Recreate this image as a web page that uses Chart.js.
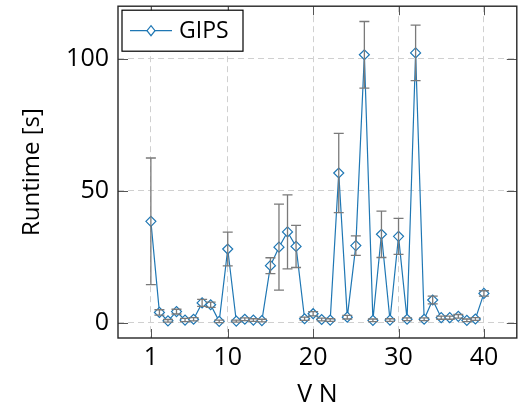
<!DOCTYPE html>
<html>
<head>
<meta charset="utf-8">
<script src="https://cdn.jsdelivr.net/npm/chart.js@4.4.1/dist/chart.umd.min.js"></script>
<style>
  html, body { margin: 0; padding: 0; background: #fff; }
  #wrap { width: 523px; height: 404px; }
</style>
</head>
<body>
<div id="wrap"><canvas id="c"></canvas></div>
<script>
// --- data ----------------------------------------------
const vn = [1, 2, 3, 4, 5, 6, 7, 8, 9, 10, 11, 12, 13, 14, 15, 16, 17, 18, 19, 20,
            21, 22, 23, 24, 25, 26, 27, 28, 29, 30, 31, 32, 33, 34, 35, 36, 37, 38, 39, 40];
const runtime = [38.5, 4.0, 0.8, 4.3, 1.1, 1.4, 7.6, 6.9, 0.6, 28.0,
                 0.7, 1.4, 1.1, 0.9, 21.7, 28.7, 34.5, 29.0, 1.6, 3.5,
                 1.3, 1.1, 56.8, 2.2, 29.3, 101.6, 1.0, 33.6, 1.1, 32.8,
                 1.4, 102.3, 1.4, 8.7, 2.0, 2.0, 2.5, 1.0, 1.5, 11.2];
const runtimeErr = [24.0, 1.0, 0.5, 0.9, 0.6, 0.6, 1.3, 1.0, 0.5, 6.4,
                    0.4, 0.5, 0.5, 0.5, 3.0, 16.3, 14.0, 8.0, 0.6, 0.8,
                    0.5, 0.5, 15.0, 0.7, 3.7, 12.6, 0.5, 8.8, 0.5, 6.8,
                    0.5, 10.5, 0.5, 1.5, 0.6, 0.6, 0.7, 0.5, 0.5, 1.0];
const xTicks = [1, 10, 20, 30, 40];
const yTicks = [0, 50, 100];
const seriesName = 'GIPS';

const BLUE = '#1f77b4';
const FONT = '"Open Sans", "Noto Sans", sans-serif';

// error bars drawn on top of the line
const errorBarsPlugin = {
  id: 'errorBars',
  afterDatasetsDraw(chart) {
    const { ctx, scales: { x, y } } = chart;
    ctx.save();
    ctx.strokeStyle = '#7a7a7a';
    ctx.lineWidth = 1.3;
    vn.forEach((v, i) => {
      const px = x.getPixelForValue(v);
      const top = y.getPixelForValue(runtime[i] + runtimeErr[i]);
      const bot = y.getPixelForValue(runtime[i] - runtimeErr[i]);
      ctx.beginPath();
      ctx.moveTo(px, top); ctx.lineTo(px, bot);
      ctx.moveTo(px - 5, top); ctx.lineTo(px + 5, top);
      ctx.moveTo(px - 5, bot); ctx.lineTo(px + 5, bot);
      ctx.stroke();
    });
    ctx.restore();
  }
};

// box frame, inward ticks on all four sides, legend
const frameLegendPlugin = {
  id: 'frameLegend',
  afterDraw(chart) {
    const { ctx, chartArea: a, scales: { x, y } } = chart;
    ctx.save();
    ctx.strokeStyle = '#555';
    ctx.lineWidth = 1;
    ctx.beginPath();
    xTicks.forEach(v => {
      const px = Math.round(x.getPixelForValue(v)) + 0.5;
      ctx.moveTo(px, a.bottom); ctx.lineTo(px, a.bottom - 9);
      ctx.moveTo(px, a.top); ctx.lineTo(px, a.top + 9);
    });
    yTicks.forEach(v => {
      const py = Math.round(y.getPixelForValue(v)) + 0.5;
      ctx.moveTo(a.left, py); ctx.lineTo(a.left + 10, py);
      ctx.moveTo(a.right, py); ctx.lineTo(a.right - 10, py);
    });
    ctx.stroke();

    ctx.strokeStyle = '#262626';
    ctx.lineWidth = 1.4;
    ctx.strokeRect(a.left, a.top, a.right - a.left, a.bottom - a.top);

    // legend
    const lx = a.left + 4, ly = a.top + 4, lw = 121, lh = 41;
    ctx.fillStyle = '#fff';
    ctx.fillRect(lx, ly, lw, lh);
    ctx.strokeStyle = '#000';
    ctx.lineWidth = 1.2;
    ctx.strokeRect(lx, ly, lw, lh);
    const my = ly + lh / 2;
    ctx.strokeStyle = BLUE;
    ctx.lineWidth = 1.2;
    ctx.beginPath();
    ctx.moveTo(lx + 8, my); ctx.lineTo(lx + 50, my);
    ctx.stroke();
    const cx = lx + 29;
    ctx.beginPath();
    ctx.moveTo(cx, my - 5); ctx.lineTo(cx + 4, my); ctx.lineTo(cx, my + 5); ctx.lineTo(cx - 4, my); ctx.closePath();
    ctx.fillStyle = '#fff';
    ctx.fill();
    ctx.stroke();
    ctx.fillStyle = '#000';
    ctx.font = '23px ' + FONT;
    ctx.textAlign = 'left';
    ctx.textBaseline = 'middle';
    ctx.fillText(seriesName, lx + 57, my + 1);
    ctx.restore();
  }
};

const points = vn.map((v, i) => ({ x: v, y: runtime[i] }));

new Chart(document.getElementById('c'), {
  type: 'line',
  data: {
    datasets: [{
      label: seriesName,
      data: points,
      borderColor: BLUE,
      borderWidth: 1.2,
      tension: 0,
      pointStyle: 'rectRot',
      pointRadius: 5,
      pointBorderWidth: 1.2,
      pointBorderColor: BLUE,
      pointBackgroundColor: '#fff'
    }]
  },
  options: {
    responsive: true,
    maintainAspectRatio: false,
    animation: false,
    layout: { padding: { left: 0, right: 5, top: 6, bottom: 0 } },
    scales: {
      x: {
        type: 'linear',
        min: -2.85,
        max: 43.85,
        afterBuildTicks: (s) => { s.ticks = xTicks.map(v => ({ value: v })); },
        afterFit: (s) => { s.height = 66; s.paddingLeft = 0; s.paddingRight = 0; },
        grid: { color: '#d0d0d0', lineWidth: 1, drawTicks: false },
        border: { display: false, dash: [6, 4] },
        ticks: { color: '#000', font: { family: FONT, size: 25 }, padding: 5, maxRotation: 0 },
        title: { display: true, text: 'V N', color: '#000', font: { family: FONT, size: 25 }, padding: { top: 0, bottom: -6 } }
      },
      y: {
        min: -5.7,
        max: 120,
        afterBuildTicks: (s) => { s.ticks = yTicks.map(v => ({ value: v })); },
        afterFit: (s) => { s.width = 118; s.paddingTop = 0; s.paddingBottom = 0; },
        grid: { color: '#d0d0d0', lineWidth: 1, drawTicks: false },
        border: { display: false, dash: [6, 4] },
        ticks: { color: '#000', font: { family: FONT, size: 25 }, padding: 9 },
        title: { display: true, text: 'Runtime [s]', color: '#000', font: { family: FONT, size: 24 }, padding: { top: 18, bottom: 0 } }
      }
    },
    plugins: {
      legend: { display: false },
      tooltip: { enabled: false }
    }
  },
  plugins: [errorBarsPlugin, frameLegendPlugin]
});
</script>
</body>
</html>
